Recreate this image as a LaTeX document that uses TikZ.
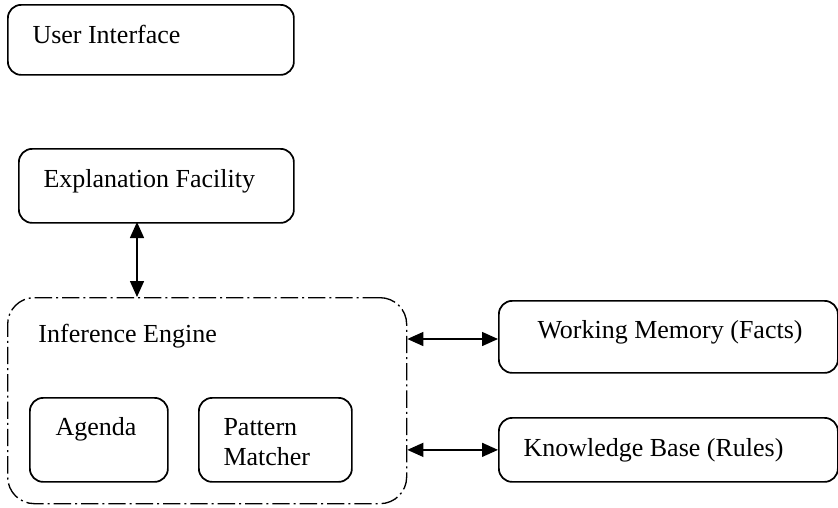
\documentclass[tikz,border=0pt]{standalone}
\usepackage{fontspec}
\setmainfont{Liberation Serif}
\usetikzlibrary{arrows.meta}

\tikzset{every picture/.style={line width=0.75pt}}
\tikzset{
  rbox/.style={draw, rounded corners=10pt, line width=1.3pt, anchor=north west, inner sep=0pt},
  engine/.style={draw, rounded corners=20pt, line width=1pt, anchor=north west, inner sep=0pt,
    dash pattern=on 13pt off 3pt on 1.5pt off 3pt},
  label/.style={anchor=base west, inner sep=0pt, align=left,
    font=\fontsize{19.5}{22.5}\selectfont},
  link/.style={line width=1.1pt, {Triangle[length=12pt,width=10.5pt]}-{Triangle[length=12pt,width=10.5pt]}}
}

\begin{document}
\begin{tikzpicture}[x=0.75pt,y=0.75pt,yscale=-1,xscale=1]
	\useasboundingbox (0,0) rectangle (838,507);
	
	% Rounded Rect
	\node (ui) [rbox, minimum width=214.5pt, minimum height=52.5pt] at (7,4) {};
	% Rounded Rect
	\node (ef) [rbox, minimum width=206.25pt, minimum height=55.5pt] at (18,148) {};
	% Rounded Rect
	\node (ie) [engine, minimum width=299.25pt, minimum height=154.5pt] at (7,297) {};
	% Rounded Rect
	\node (ag) [rbox, minimum width=103.5pt, minimum height=63pt] at (29,397) {};
	% Rounded Rect
	\node (pm) [rbox, minimum width=114.75pt, minimum height=63pt] at (198,397) {};
	% Rounded Rect
	\node (wm) [rbox, minimum width=254.25pt, minimum height=54pt] at (498,300) {};
	% Rounded Rect
	\node (kb) [rbox, minimum width=254.25pt, minimum height=48pt] at (498,417) {};
	
	% Text Node
	\node (uitxt) [label] at (32,43) {User Interface};
	% Text Node
	\node (eftxt) [label] at (43,187) {Explanation Facility};
	% Text Node
	\node (ietxt) [label] at (38,342) {Inference Engine};
	% Text Node
	\node (agtxt) [label] at (55,435) {Agenda};
	% Text Node
	\node (pmtxt) [label] at (223,465) {Pattern\\Matcher};
	% Text Node
	\node (wmtxt) [label] at (537,338) {Working Memory (Facts)};
	% Text Node
	\node (kbtxt) [label] at (523,456) {Knowledge Base (Rules)};
	
	% Connection
	\coordinate (eflink) at (137,222);
	\draw [link] (eflink) -- (eflink |- ie.north);
	% Connection
	\coordinate (wmlink) at (498,339);
	\draw [link] (ie.east |- wmlink) -- (wmlink);
	% Connection
	\draw [link] (ie.east |- kb.west) -- (kb.west);
	
\end{tikzpicture}
\end{document}
